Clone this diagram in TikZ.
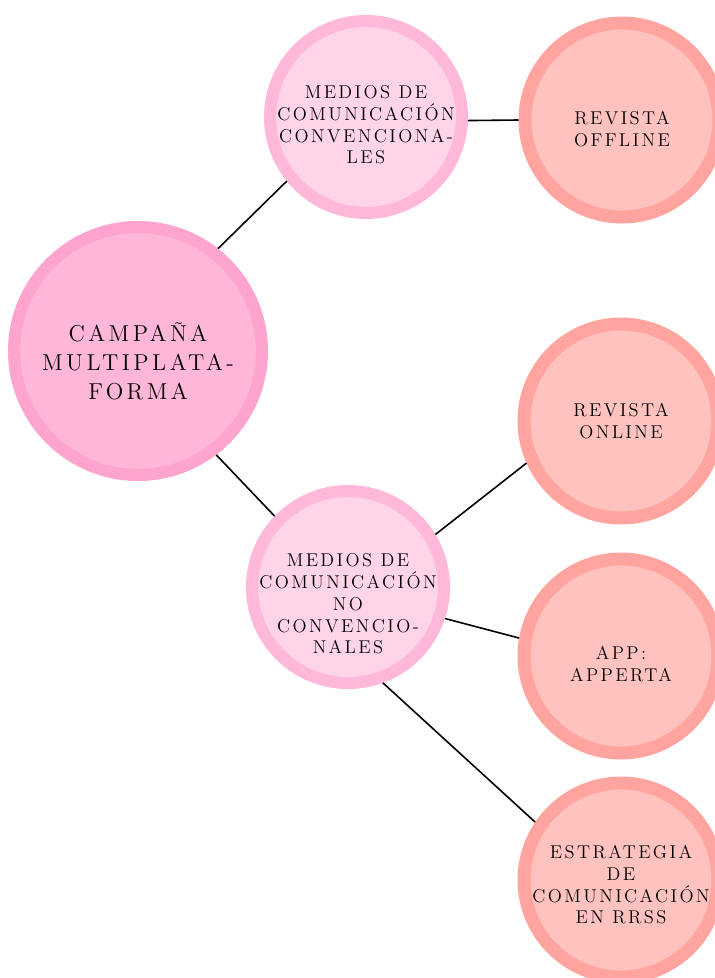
\documentclass[tikz,border=0pt]{standalone}
\usepackage{fontspec}
\usepackage{tikz}

\newfontfamily\bigcirclefont{lmroman12-regular.otf}[LetterSpace=15]
\newfontfamily\circlefont{lmroman12-regular.otf}[LetterSpace=13]

\definecolor{campring}{RGB}{255,163,207}
\definecolor{campfill}{RGB}{255,182,217}
\definecolor{midring}{RGB}{255,183,218}
\definecolor{midfill}{RGB}{255,212,232}
\definecolor{leafring}{RGB}{255,164,158}
\definecolor{leaffill}{RGB}{255,194,190}

\begin{document}
\begin{tikzpicture}[x=1pt, y=-1pt,
    campcircle/.style={circle, draw=campring, fill=campfill, line width=12pt, minimum size=248pt, inner sep=0pt},
    midcircle/.style={circle, draw=midring, fill=midfill, line width=12pt, minimum size=192pt, inner sep=0pt},
    leafcircle/.style={circle, draw=leafring, fill=leaffill, line width=13pt, minimum size=194pt, inner sep=0pt},
    bigtext/.style={align=center, text=black, font=\bigcirclefont\fontsize{23}{29}\selectfont},
    smalltext/.style={align=center, text=black, font=\circlefont\fontsize{18.5}{21.7}\selectfont},
    link/.style={line width=1.6pt, black}]
            \useasboundingbox (0,0) rectangle (715,978);

            %nodes
            \node[campcircle, label={[bigtext, yshift=-10pt]center:{CAMPAÑA\\MULTIPLATA-\\FORMA}}] (camp) at (138,351) {};
            \node[midcircle, label={[smalltext, yshift=-8pt]center:{MEDIOS DE\\COMUNICACIÓN\\CONVENCIONA-\\LES}}] (conv) at (366,117) {};
            \node[midcircle, label={[smalltext, yshift=-17pt]center:{MEDIOS DE\\COMUNICACIÓN\\NO\\CONVENCIO-\\NALES}}] (noconv) at (348,587) {};
            \node[leafcircle, label={[smalltext, yshift=-9pt]center:{REVISTA\\OFFLINE}}] (offline) at (622,120) {};
            \node[leafcircle, label={[smalltext]center:{REVISTA\\ONLINE}}] (online) at (621,421) {};
            \node[leafcircle, label={[smalltext, yshift=-8pt]center:{APP:\\APPERTA}}] (app) at (621,656) {};
            \node[leafcircle, label={[smalltext, yshift=-5pt]center:{ESTRATEGIA\\DE\\COMUNICACIÓN\\EN RRSS}}] (rrss) at (621,880) {};

            %edges
            \draw[link] (camp.52.5) -- (conv.219.4);
            \draw[link] (camp.-53.1) -- (noconv.136);
            \draw[link] (conv.-2.3) -- (offline.180.4);
            \draw[link] (noconv.31.7) -- (online.204.2);
            \draw[link] (noconv.-18.6) -- (app.170.3);
            \draw[link] (noconv.-70.2) -- (rrss.146.4);
\end{tikzpicture}
\end{document}
